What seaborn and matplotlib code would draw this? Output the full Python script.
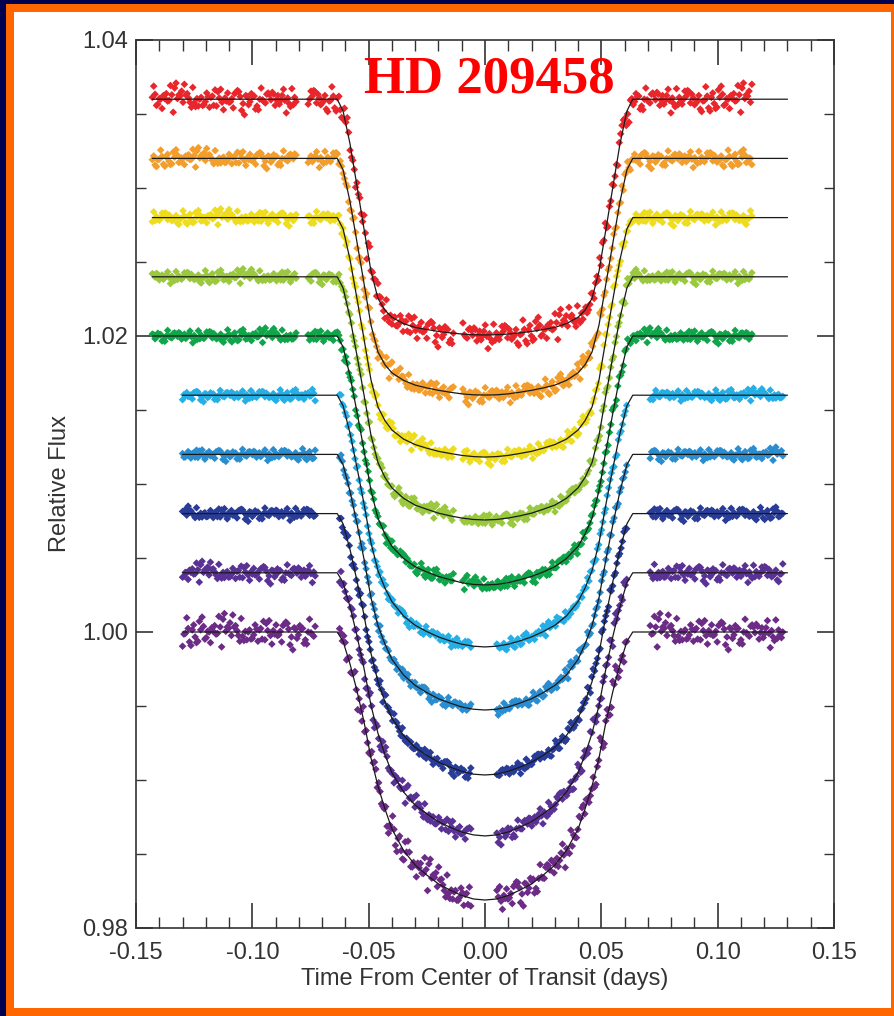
import numpy as np
import pandas as pd
import matplotlib
matplotlib.use("Agg")
import matplotlib.pyplot as plt
import seaborn as sns
from matplotlib.patches import Rectangle
from matplotlib.ticker import MultipleLocator, FuncFormatter

# ---------------- data ----------------
BANDS = ["band1", "band2", "band3", "band4", "band5",
         "band6", "band7", "band8", "band9", "band10"]
COLORS = ["#E8262B", "#F39E2C", "#EEDC1E", "#9AC83E", "#10A54A",
          "#26AFE6", "#2A8DD0", "#283C98", "#5A3194", "#6B2B86"]
BASELINES = [1.036, 1.032, 1.028, 1.024, 1.020, 1.016, 1.012, 1.008, 1.004, 1.000]
DEPTHS = [0.01593, 0.01599, 0.01618, 0.01643, 0.01682,
          0.01701, 0.01727, 0.01766, 0.01778, 0.01811]

# half-transit time knots (days from centre) and fractional depth of each model curve
HALF_TIME_KNOTS = [0.0, 0.005, 0.01, 0.015, 0.02, 0.025, 0.03, 0.035, 0.04, 0.043, 0.046,
                   0.049, 0.052, 0.055, 0.058, 0.061, 0.0635]
PROFILES = [
    [1.0, 0.999, 0.996, 0.991, 0.985, 0.977, 0.968, 0.952, 0.925, 0.895, 0.845, 0.730, 0.550, 0.370, 0.190, 0.050, 0.0],
    [1.0, 0.999, 0.995, 0.988, 0.980, 0.970, 0.958, 0.938, 0.906, 0.872, 0.818, 0.704, 0.528, 0.355, 0.183, 0.048, 0.0],
    [1.0, 0.998, 0.993, 0.985, 0.976, 0.963, 0.948, 0.925, 0.887, 0.848, 0.791, 0.678, 0.507, 0.340, 0.176, 0.047, 0.0],
    [1.0, 0.998, 0.992, 0.983, 0.972, 0.956, 0.939, 0.911, 0.868, 0.825, 0.764, 0.652, 0.486, 0.325, 0.169, 0.046, 0.0],
    [1.0, 0.998, 0.991, 0.979, 0.966, 0.948, 0.927, 0.894, 0.845, 0.796, 0.732, 0.621, 0.460, 0.307, 0.161, 0.044, 0.0],
    [1.0, 0.997, 0.989, 0.976, 0.960, 0.939, 0.914, 0.877, 0.820, 0.766, 0.697, 0.587, 0.432, 0.288, 0.152, 0.042, 0.0],
    [1.0, 0.997, 0.988, 0.973, 0.956, 0.932, 0.904, 0.863, 0.802, 0.742, 0.670, 0.561, 0.410, 0.272, 0.145, 0.040, 0.0],
    [1.0, 0.997, 0.986, 0.970, 0.951, 0.925, 0.895, 0.849, 0.783, 0.719, 0.643, 0.535, 0.389, 0.258, 0.138, 0.039, 0.0],
    [1.0, 0.996, 0.985, 0.967, 0.946, 0.916, 0.883, 0.833, 0.760, 0.691, 0.610, 0.504, 0.363, 0.240, 0.129, 0.037, 0.0],
    [1.0, 0.996, 0.983, 0.963, 0.940, 0.907, 0.870, 0.815, 0.735, 0.660, 0.575, 0.470, 0.335, 0.220, 0.120, 0.035, 0.0],
]
LINE_START = [-0.143, -0.143, -0.143, -0.143, -0.143, -0.130, -0.130, -0.130, -0.130, -0.130]
LINE_END = [0.130] * 10

# scatter of the photometry around the model (flux units) and observed time windows
NOISE_SIGMA = [0.00042, 0.00028, 0.00023, 0.00021, 0.00021,
               0.00018, 0.00019, 0.00021, 0.00030, 0.00048]
NOISE_TEMPLATE = [
    0.3, -1.1, 0.7, 1.6, -0.4, -0.9, 0.1, 2.1, -1.7, 0.5, -0.2, 1.0, -0.6, -1.4, 0.8, 0.0,
    1.3, -2.2, 0.4, -0.3, 0.9, -1.0, 1.8, -0.5, 0.2, -1.3, 0.6, 1.1, -0.8, -0.1, 2.4, -0.7,
    0.3, -1.6, 1.4, 0.1, -0.4, 0.7, -1.2, 0.5, -2.0, 1.2, 0.0, -0.6, 0.9, 1.7, -1.0, -0.3,
    0.4, -1.5, 0.8, 0.2, -0.9, 1.5, -0.2, -1.8, 0.6, 1.0, -0.5, 0.3, -1.1, 2.0, -0.7, 0.1,
    0.7, -1.3, -0.4, 1.2, 0.5, -2.5, 0.9, -0.1, 1.9, -0.8, 0.2, -1.4, 0.6, -0.3, 1.1, -0.6,
    0.0, 1.6, -1.9, 0.4, -0.2, 0.8, -1.2, 1.3, -0.5, 0.3, -0.9, 2.2, -1.0, 0.1, 0.5, -1.7,
    1.0, -0.4, 0.7, -0.1, -1.1, 1.4, 0.2, -0.7, 0.9, -2.1, 0.6, 0.0, 1.2, -0.3, -1.5, 0.4,
    1.8, -0.8, 0.3, -0.6, 1.0, -1.3, 0.5, 2.6, -0.2, -1.0, 0.8, -0.5, 1.5, -1.6, 0.1, 0.6,
    -0.9, 0.2, -0.4,
]
TOP_WINDOWS = [(-0.143, -0.081), (-0.076, -0.0135), (-0.0095, 0.115)]
BOTTOM_WINDOWS = [(-0.130, -0.073), (-0.0625, -0.0056), (0.0051, 0.061), (0.071, 0.128)]
WINDOWS = [TOP_WINDOWS] * 5 + [BOTTOM_WINDOWS] * 5
CADENCE = 0.0006

X_TICKS = [-0.15, -0.10, -0.05, 0.00, 0.05, 0.10, 0.15]
Y_TICKS = [0.98, 1.00, 1.02, 1.04]

# ---------------- build tables ----------------
knots = np.array(HALF_TIME_KNOTS)
line_rows, pt_rows = [], []
N = len(NOISE_TEMPLATE)
for k, band in enumerate(BANDS):
    prof = np.array(PROFILES[k])
    t_line = np.concatenate([[LINE_START[k]], -knots[::-1], knots[1:], [LINE_END[k]]])
    r_line = np.concatenate([[0.0], prof[::-1], prof[1:], [0.0]])
    for t, r in zip(t_line, r_line):
        line_rows.append((band, t, BASELINES[k] - DEPTHS[k] * r))
    i = 0
    for (a, b) in WINDOWS[k]:
        ts = np.arange(a, b, CADENCE)
        for t in ts:
            r = np.interp(abs(t), knots, prof, right=0.0)
            nval = NOISE_TEMPLATE[(i * 7 + 19 * k) % N]
            pt_rows.append((band, t, BASELINES[k] - DEPTHS[k] * r + NOISE_SIGMA[k] * nval))
            i += 1

lines_df = pd.DataFrame(line_rows, columns=["band", "time", "flux"])
pts_df = pd.DataFrame(pt_rows, columns=["band", "time", "flux"])

# ---------------- plot ----------------
sns.set_style("ticks")
plt.rcParams["font.family"] = ["Liberation Sans", "DejaVu Sans"]
plt.rcParams["axes.unicode_minus"] = False

W, H = 894, 1016
fig = plt.figure(figsize=(W / 100, H / 100), dpi=100)
fig.patch.set_facecolor("#000050")
fig.add_artist(Rectangle((6 / W, 0), (W - 6) / W, (H - 4) / H,
                         transform=fig.transFigure, facecolor="#FF6600",
                         edgecolor="none", zorder=-20))
fig.add_artist(Rectangle((14 / W, 1 - 1008 / H), (891 - 14) / W, (1008 - 12) / H,
                         transform=fig.transFigure, facecolor="white",
                         edgecolor="none", zorder=-10))

ax = fig.add_axes([136 / W, 1 - 928 / H, (834 - 136) / W, (928 - 40) / H])
ax.set_facecolor("white")

sns.scatterplot(data=pts_df, x="time", y="flux", hue="band", hue_order=BANDS,
                palette=COLORS, marker="D", s=15, linewidth=0, legend=False,
                ax=ax, zorder=2)
sns.lineplot(data=lines_df, x="time", y="flux", units="band", estimator=None,
             sort=False, color="#1a1a1a", linewidth=0.9, ax=ax, zorder=3)

ax.set_xlim(-0.15, 0.15)
ax.set_ylim(0.98, 1.04)
ax.set_xticks(X_TICKS)
ax.set_yticks(Y_TICKS)
ax.xaxis.set_minor_locator(MultipleLocator(0.01))
ax.yaxis.set_minor_locator(MultipleLocator(0.005))
fmt = FuncFormatter(lambda v, p: "0.00" if abs(v) < 1e-9 else f"{v:.2f}")
ax.xaxis.set_major_formatter(fmt)
ax.yaxis.set_major_formatter(FuncFormatter(lambda v, p: f"{v:.2f}"))

ax.tick_params(which="both", direction="in", top=True, right=True,
               colors="#333333", labelsize=17)
ax.tick_params(axis="x", which="major", length=18, width=1.2, pad=10)
ax.tick_params(axis="x", which="minor", length=8, width=1.0)
ax.tick_params(axis="y", which="major", length=12, width=1.2, pad=6)
ax.tick_params(axis="y", which="minor", length=7, width=1.0)
for sp in ax.spines.values():
    sp.set_color("#333333")
    sp.set_linewidth(1.2)

ax.set_xlabel("Time From Center of Transit (days)", fontsize=17, color="#333333", labelpad=3)
ax.set_ylabel("Relative Flux", fontsize=17, color="#333333", labelpad=8)

ax.text(0.0017, 1.0373, "HD 209458", ha="center", va="center", fontsize=38,
        family=["Liberation Serif", "DejaVu Serif"], weight="bold", color="#FF0000",
        zorder=5)

fig.savefig("out.png", dpi=100, facecolor=fig.get_facecolor())
